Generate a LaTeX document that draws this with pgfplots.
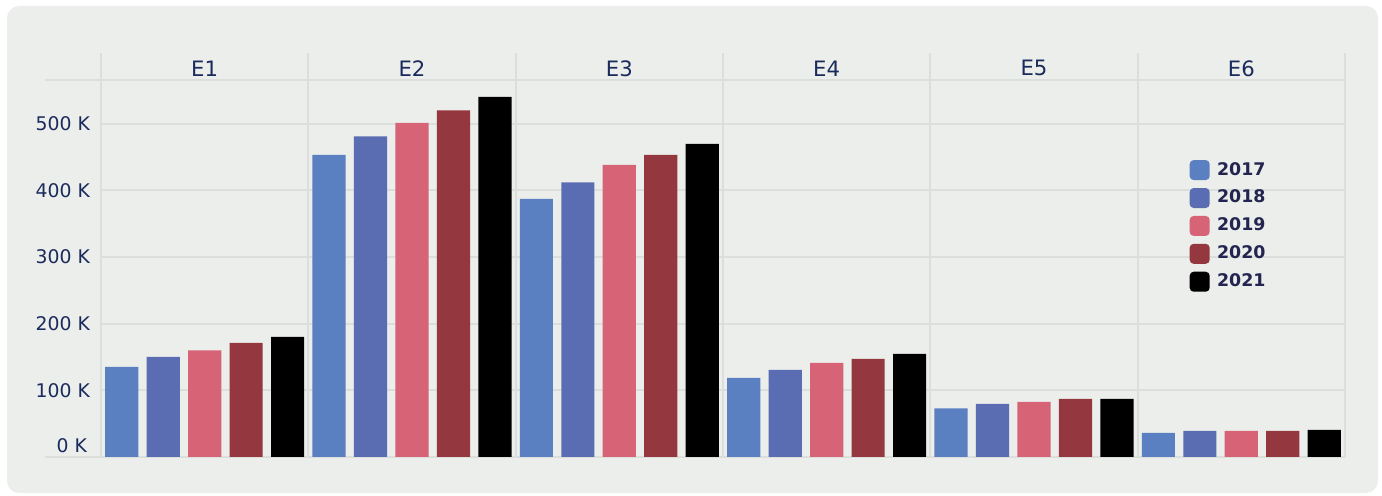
\documentclass[border=0pt]{standalone}
\usepackage{pgfplots}
\pgfplotsset{compat=1.18}
\usepackage{fontspec}
\setmainfont{DejaVu Sans}
\definecolor{bgc}{HTML}{ECEEEB}
\definecolor{gridc}{HTML}{DCDEDB}
\definecolor{txtc}{HTML}{1B2A5C}
\definecolor{legc}{HTML}{23244F}
\definecolor{cA}{HTML}{5B80C2}
\definecolor{cB}{HTML}{5A6DB2}
\definecolor{cC}{HTML}{D76377}
\definecolor{cD}{HTML}{94373E}
\definecolor{cE}{HTML}{000000}
\begin{document}
\begin{tikzpicture}
\fill[white] (0,0) rectangle (691pt,248pt);
\fill[bgc, rounded corners=6pt] (3.5pt,1.5pt) rectangle (689pt,245pt);
\begin{axis}[
  at={(50.5pt,19.5pt)}, anchor=south west,
  scale only axis, width=622pt, height=202pt,
  xmin=0, xmax=30, ymin=0, ymax=606,
  axis line style={draw=none},
  ybar, bar shift=0pt, bar width=0.8,
  xtick={0,5,...,30}, xticklabels={},
  ytick={0,100,...,500},
  yticklabels={\raisebox{11.5pt}{0 K\kern1.5pt},100 K,200 K,300 K,400 K,500 K},
  major tick length=0pt,
  tick style={draw=none},
  xmajorgrids, ymajorgrids,
  grid style={gridc, line width=0.9pt},
  yticklabel style={font=\fontsize{9.4}{11}\selectfont, text=txtc, xshift=-2pt},
  legend style={at={(axis cs:26.1,452.5)}, anchor=north west, draw=none, fill=none,
    font=\fontsize{8.7}{10}\selectfont\bfseries, text=legc, row sep=3.6pt, column sep=2.5pt,
    nodes={inner sep=1.2pt}},
  legend cell align=left,
  clip=false,
]
\draw[gridc, line width=0.9pt] ([xshift=-28pt]axis cs:0,565) -- (axis cs:30,565);
\draw[gridc, line width=1.2pt] ([xshift=-28pt]axis cs:0,0) -- (axis cs:30,0);
\addplot[fill=cA, draw=none, legend image code/.code={\fill[cA, rounded corners=2pt] (0pt,-5pt) rectangle (10pt,5pt);}] coordinates {(0.5,135) (5.5,453) (10.5,387) (15.5,118.5) (20.5,73) (25.5,36)};
\addplot[fill=cB, draw=none, legend image code/.code={\fill[cB, rounded corners=2pt] (0pt,-5pt) rectangle (10pt,5pt);}] coordinates {(1.5,150) (6.5,481) (11.5,412) (16.5,130.5) (21.5,79.5) (26.5,39)};
\addplot[fill=cC, draw=none, legend image code/.code={\fill[cC, rounded corners=2pt] (0pt,-5pt) rectangle (10pt,5pt);}] coordinates {(2.5,160) (7.5,501) (12.5,438) (17.5,141) (22.5,82.5) (27.5,39)};
\addplot[fill=cD, draw=none, legend image code/.code={\fill[cD, rounded corners=2pt] (0pt,-5pt) rectangle (10pt,5pt);}] coordinates {(3.5,171) (8.5,520) (13.5,453) (18.5,147) (23.5,87) (28.5,39)};
\addplot[fill=cE, draw=none, legend image code/.code={\fill[cE, rounded corners=2pt] (0pt,-5pt) rectangle (10pt,5pt);}] coordinates {(4.5,180) (9.5,540) (14.5,469.5) (19.5,154.5) (24.5,87) (29.5,40.5)};
\legend{2017,2018,2019,2020,2021}
\node[font=\fontsize{10.6}{12}\selectfont, text=txtc] at (axis cs:2.5,583) {E1};
\node[font=\fontsize{10.6}{12}\selectfont, text=txtc] at (axis cs:7.5,583) {E2};
\node[font=\fontsize{10.6}{12}\selectfont, text=txtc] at (axis cs:12.5,583) {E3};
\node[font=\fontsize{10.6}{12}\selectfont, text=txtc] at (axis cs:17.5,583) {E4};
\node[font=\fontsize{10.6}{12}\selectfont, text=txtc] at (axis cs:22.5,583) {E5};
\node[font=\fontsize{10.6}{12}\selectfont, text=txtc] at (axis cs:27.5,583) {E6};
\end{axis}
\end{tikzpicture}
\end{document}
